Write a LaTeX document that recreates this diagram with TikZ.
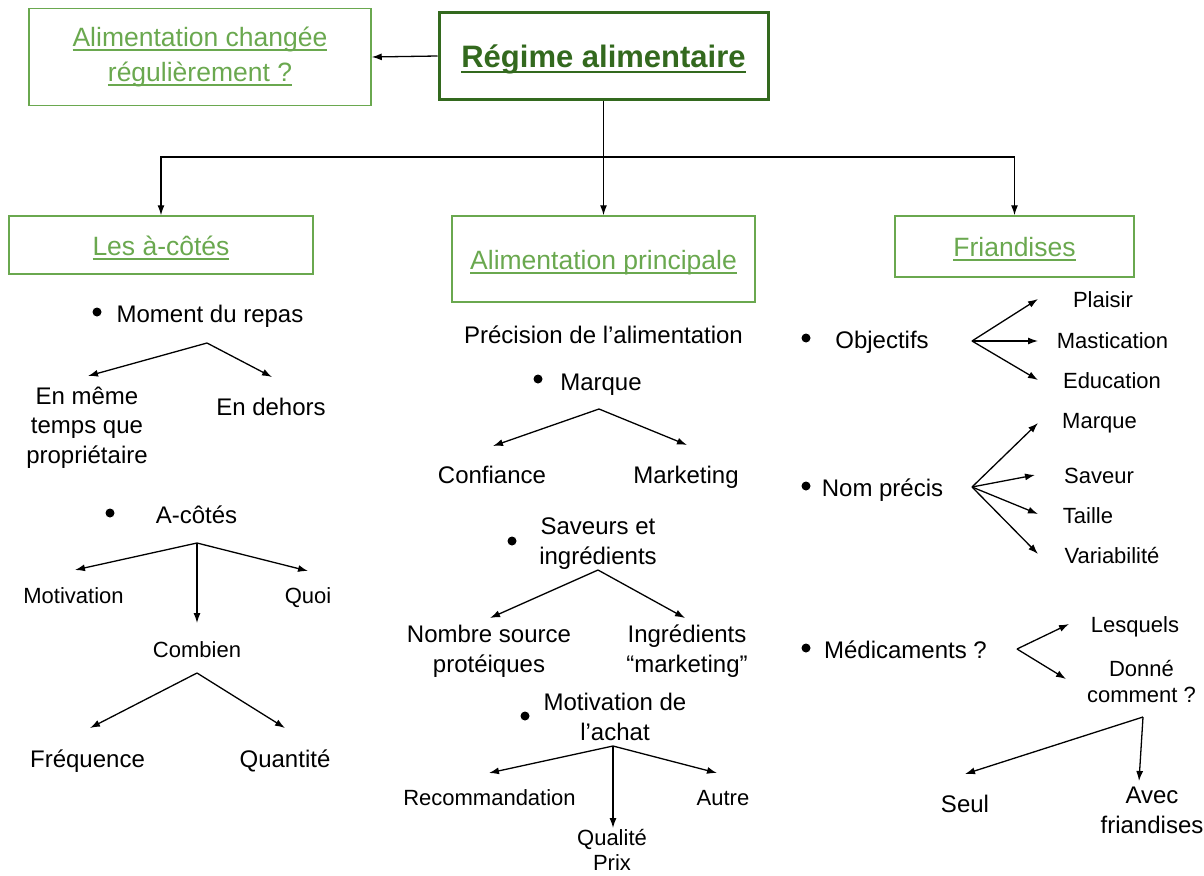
\documentclass[tikz,border=0pt]{standalone}
\usepackage{fontspec}
\setmainfont{Liberation Sans}
\usetikzlibrary{arrows.meta}

\definecolor{grlight}{HTML}{6AA84F}
\definecolor{grdark}{HTML}{33691E}

\newsavebox{\ulbox}
\newcommand{\grul}[1]{\sbox\ulbox{#1}\rlap{\rule[-0.17em]{\wd\ulbox}{0.065em}}\usebox\ulbox}

\tikzstyle{headbox} = [draw=grlight, line width=1.5pt, text=grlight, inner sep=0pt, align=center, font=\fontsize{26.5}{35}\selectfont]
\tikzstyle{headline} = [headbox, text height=24pt, text depth=4pt]
\tikzstyle{topbox} = [draw=grdark, line width=3pt, text=grdark, inner sep=0pt, text height=27pt, text depth=4pt, font=\bfseries\fontsize{31}{36}\selectfont]
\tikzstyle{bigtext} = [anchor=base, inner sep=0pt, align=center, font=\fontsize{24}{29.5}\selectfont]
\tikzstyle{smalltext} = [anchor=base, inner sep=0pt, align=center, font=\fontsize{22}{26}\selectfont]
\tikzstyle{bulletpt} = [circle, fill=black, inner sep=0pt, minimum size=9pt]
\tikzstyle{arr} = [-{Latex[length=10pt,width=7pt]}, line width=1.3pt]

\begin{document}
\begin{tikzpicture}[x=1pt,y=-1pt]
	\useasboundingbox (0,0) rectangle (1204,875);
	% boxes
	\node[topbox, minimum width=329pt, minimum height=87pt] (regime) at (603.5,56) {\grul{Régime alimentaire}};
	\node[headbox, minimum width=342pt, minimum height=97pt] (changee) at (200,57) {\grul{Alimentation changée}\\\grul{régulièrement ?}};
	\node[headline, minimum width=304pt, minimum height=58pt] (cotes) at (161,245) {\grul{Les à-côtés}};
	\node[headline, minimum width=303pt, minimum height=86pt] (princ) at (603.5,259) {\grul{Alimentation principale}};
	\node[headline, minimum width=239pt, minimum height=61pt] (friand) at (1014.5,246.5) {\grul{Friandises}};
	\coordinate (split) at (603.5,157);
	\draw[arr] (regime.west) -- (changee.east);
	\draw[line width=1.3pt] (regime.south) -- (split);
	\draw[arr] (split) -| (cotes.north);
	\draw[arr] (split) -- (princ.north);
	\draw[arr] (split) -| (friand.north);

	% les a-cotes
	\node[bulletpt] (bmoment) at (97,312) {};
	\node[bigtext] (moment) at (210,322) {Moment du repas};
	\node[bigtext] (enmeme) at (87,463) {En même\\temps que\\propriétaire};
	\node[bigtext] (dehors) at (271,415) {En dehors};
	\coordinate (moment-s) at (207,343);
	\coordinate (enmeme-n) at (88,376);
	\coordinate (dehors-n) at (272,377);
	\draw[arr] (moment-s) -- (enmeme-n);
	\draw[arr] (moment-s) -- (dehors-n);

	\node[bulletpt] (bacotes) at (110,513) {};
	\node[bigtext] (acotes) at (196.5,523) {A-côtés};
	\node[smalltext] (motiv) at (73.5,603) {Motivation};
	\node[smalltext] (quoi) at (308,603) {Quoi};
	\node[smalltext] (combien) at (197,657) {Combien};
	\coordinate (acotes-s) at (197,543);
	\coordinate (motiv-n) at (75,570);
	\coordinate (quoi-n) at (308,571);
	\coordinate (combien-n) at (197,623);
	\draw[arr] (acotes-s) -- (motiv-n);
	\draw[arr] (acotes-s) -- (quoi-n);
	\draw[arr] (acotes-s) -- (combien-n);

	\node[bigtext] (freq) at (87.5,767) {Fréquence};
	\node[bigtext] (quant) at (285,767) {Quantité};
	\coordinate (combien-s) at (197,673);
	\coordinate (freq-n) at (90,728);
	\coordinate (quant-n) at (285,728);
	\draw[arr] (combien-s) -- (freq-n);
	\draw[arr] (combien-s) -- (quant-n);

	% alimentation principale
	\node[bigtext] (precision) at (603.5,343) {Précision de l’alimentation};
	\node[bulletpt] (bmarque) at (538,379) {};
	\node[bigtext] (marque) at (601,390) {Marque};
	\node[bigtext] (confiance) at (492,483) {Confiance};
	\node[bigtext] (marketing) at (686,483) {Marketing};
	\coordinate (marque-s) at (599,409);
	\coordinate (confiance-n) at (493,446);
	\coordinate (marketing-n) at (687,445);
	\draw[arr] (marque-s) -- (confiance-n);
	\draw[arr] (marque-s) -- (marketing-n);

	\node[bulletpt] (bsaveurs) at (512,541) {};
	\node[bigtext] (saveurs) at (598,564) {Saveurs et\\ingrédients};
	\node[bigtext] (nombre) at (489,672) {Nombre source\\protéiques};
	\node[bigtext] (ingred) at (687,672) {Ingrédients\\“marketing”};
	\coordinate (saveurs-s) at (598,570);
	\coordinate (nombre-n) at (490,618);
	\coordinate (ingred-n) at (685,618);
	\draw[arr] (saveurs-s) -- (nombre-n);
	\draw[arr] (saveurs-s) -- (ingred-n);

	\node[bulletpt] (bachat) at (525,716) {};
	\node[bigtext] (achat) at (615,740) {Motivation de\\l’achat};
	\node[smalltext] (recomm) at (489.5,805) {Recommandation};
	\node[smalltext] (autre) at (723,805) {Autre};
	\node[smalltext, font=\fontsize{22}{25}\selectfont] (qualite) at (612,870) {Qualité\\Prix};
	\coordinate (achat-s) at (613,746);
	\coordinate (recomm-n) at (489,773);
	\coordinate (autre-n) at (717,773);
	\coordinate (qualite-n) at (613,828);
	\draw[arr] (achat-s) -- (recomm-n);
	\draw[arr] (achat-s) -- (autre-n);
	\draw[arr] (achat-s) -- (qualite-n);

	% friandises
	\node[bulletpt] (bobj) at (806,338) {};
	\node[bigtext] (objectifs) at (882,348) {Objectifs};
	\node[smalltext] (plaisir) at (1103,307) {Plaisir};
	\node[smalltext] (mastic) at (1112.5,348) {Mastication};
	\node[smalltext] (educ) at (1112,388) {Education};
	\coordinate (objectifs-e) at (972,341);
	\coordinate (plaisir-w) at (1038,299);
	\coordinate (mastic-w) at (1038,341);
	\coordinate (educ-w) at (1038,380);
	\draw[arr] (objectifs-e) -- (plaisir-w);
	\draw[arr] (objectifs-e) -- (mastic-w);
	\draw[arr] (objectifs-e) -- (educ-w);

	\node[bulletpt] (bnom) at (806,486) {};
	\node[bigtext] (nom) at (882.5,496) {Nom précis};
	\node[smalltext] (marque2) at (1099.5,428) {Marque};
	\node[smalltext] (saveur) at (1099,483) {Saveur};
	\node[smalltext] (taille) at (1088,523) {Taille};
	\node[smalltext] (variab) at (1112,563) {Variabilité};
	\coordinate (nom-e) at (972,487);
	\coordinate (marque2-w) at (1038,423);
	\coordinate (saveur-w) at (1035,475);
	\coordinate (taille-w) at (1038,514);
	\coordinate (variab-w) at (1038,554);
	\draw[arr] (nom-e) -- (marque2-w);
	\draw[arr] (nom-e) -- (saveur-w);
	\draw[arr] (nom-e) -- (taille-w);
	\draw[arr] (nom-e) -- (variab-w);

	\node[bulletpt] (bmedic) at (806,648) {};
	\node[bigtext] (medic) at (905.5,658) {Médicaments ?};
	\node[smalltext] (lesquels) at (1135,632) {Lesquels};
	\node[smalltext] (donne) at (1141.5,702) {Donné\\comment ?};
	\coordinate (medic-e) at (1017,649);
	\coordinate (lesquels-w) at (1069,624);
	\coordinate (donne-w) at (1066,679);
	\draw[arr] (medic-e) -- (lesquels-w);
	\draw[arr] (medic-e) -- (donne-w);

	\node[bigtext] (seul) at (965,812) {Seul};
	\node[bigtext] (avec) at (1152,833) {Avec\\friandises};
	\coordinate (donne-s) at (1143,717);
	\coordinate (seul-n) at (965,774);
	\coordinate (avec-n) at (1139,781);
	\draw[arr] (donne-s) -- (seul-n);
	\draw[arr] (donne-s) -- (avec-n);
\end{tikzpicture}
\end{document}
